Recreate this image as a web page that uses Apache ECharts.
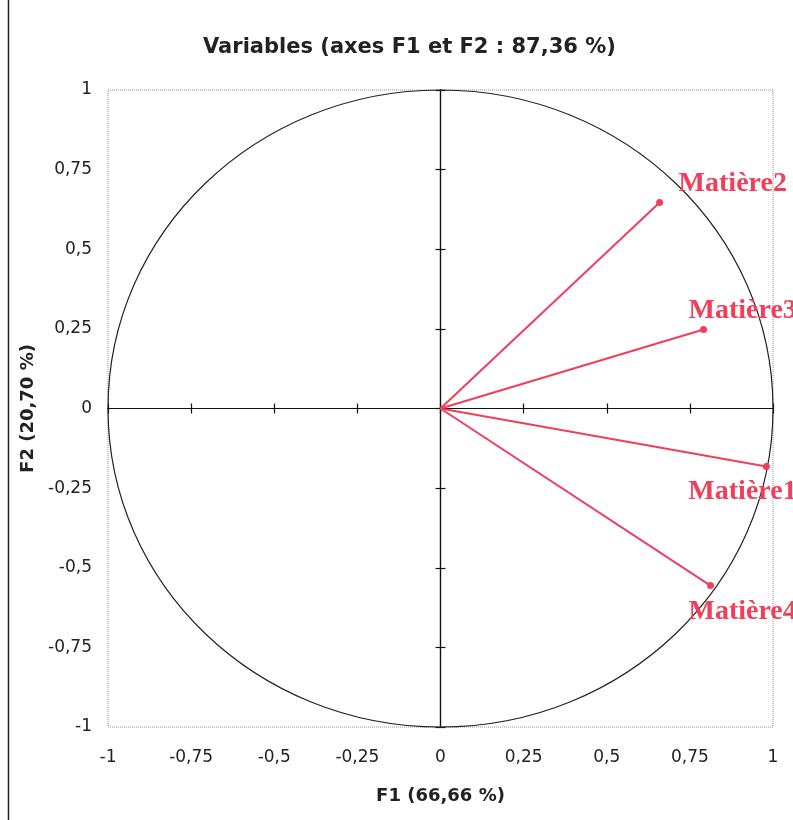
<!DOCTYPE html>
<html>
<head>
<meta charset="utf-8">
<script src="https://cdn.jsdelivr.net/npm/echarts@6/dist/echarts.min.js"></script>
<style>html,body{margin:0;padding:0;background:#fff}#c{width:793px;height:820px}</style>
</head>
<body>
<div id="c"></div>
<script>
// ---- data ----
const variableNames = ['Matière1', 'Matière2', 'Matière3', 'Matière4'];
const f1Values = [0.980, 0.659, 0.791, 0.812];
const f2Values = [-0.182, 0.647, 0.248, -0.556];
const axisTicks = [-1, -0.75, -0.5, -0.25, 0, 0.25, 0.5, 0.75, 1];
const titleText = 'Variables (axes F1 et F2 : 87,36 %)';
const xAxisTitle = 'F1 (66,66 %)';
const yAxisTitle = 'F2 (20,70 %)';

// ---- styles ----
const RED = '#ef3f5a';
const labelOffsets = {
  'Matière1': [-78, 25],
  'Matière2': [19, -19],
  'Matière3': [-15, -19],
  'Matière4': [-22, 26]
};
const fmt = v => String(v).replace('.', ',');
const font = 'DejaVu Sans, Arial, sans-serif';

const chart = echarts.init(document.getElementById('c'), null, {renderer: 'canvas'});

const series = variableNames.map((name, i) => ({
  type: 'line',
  name: name,
  xAxisIndex: 0,
  yAxisIndex: 0,
  animation: false,
  lineStyle: {color: RED, width: 2},
  itemStyle: {color: RED},
  symbol: 'circle',
  symbolSize: 7,
  showSymbol: true,
  z: 5,
  data: [
    {value: [0, 0], symbol: 'none'},
    {value: [f1Values[i], f2Values[i]],
     label: {
       show: true,
       position: 'inside',
       offset: labelOffsets[name],
       align: 'left',
       formatter: name,
       color: RED,
       fontFamily: 'Liberation Serif, Times New Roman, serif',
       fontWeight: 'bold',
       fontSize: 28
     }}
  ]
}));

function zeroAxis(kind, inside) {
  return {
    type: 'value', min: -1, max: 1, interval: 0.25,
    axisLine: {show: true, onZero: true, onZeroAxisIndex: 0, lineStyle: {color: '#111', width: 1.2}},
    axisTick: {show: true, inside: inside, length: 5, lineStyle: {color: '#111', width: 1.2}},
    axisLabel: {show: false},
    splitLine: {show: false},
    position: kind === 'x' ? 'bottom' : 'left'
  };
}

chart.setOption({
  animation: false,
  title: {
    text: titleText, left: 198, top: 32,
    textStyle: {fontFamily: font, fontWeight: 'bold', fontSize: 21, color: '#222'}
  },
  grid: {
    left: 108, right: 20, top: 90, bottom: 93,
    show: true, borderColor: '#8d8fa8', borderWidth: 1, borderType: 'dotted'
  },
  xAxis: [
    {
      type: 'value', min: -1, max: 1, interval: 0.25, position: 'bottom',
      axisLine: {show: false, onZero: false},
      axisTick: {show: false},
      splitLine: {show: false},
      axisLabel: {margin: 22, formatter: v => axisTicks.includes(v) ? fmt(v) : '',
        color: '#222', fontFamily: font, fontSize: 17},
      name: xAxisTitle, nameLocation: 'middle', nameGap: 60,
      nameTextStyle: {fontFamily: font, fontWeight: 'bold', fontSize: 18, color: '#222'}
    },
    zeroAxis('x', false),
    zeroAxis('x', true)
  ],
  yAxis: [
    {
      type: 'value', min: -1, max: 1, interval: 0.25, position: 'left',
      axisLine: {show: false, onZero: false},
      axisTick: {show: false},
      splitLine: {show: false},
      axisLabel: {margin: 16, formatter: v => axisTicks.includes(v) ? fmt(v) : '',
        color: '#222', fontFamily: font, fontSize: 17},
      name: yAxisTitle, nameLocation: 'middle', nameGap: 64,
      nameTextStyle: {fontFamily: font, fontWeight: 'bold', fontSize: 18, color: '#222'}
    },
    zeroAxis('y', false),
    zeroAxis('y', true)
  ],
  series: series
});

// unit circle of correlations, placed through the axes' own scale
const c0 = chart.convertToPixel({xAxisIndex: 0, yAxisIndex: 0}, [0, 0]);
const cx1 = chart.convertToPixel({xAxisIndex: 0, yAxisIndex: 0}, [1, 0]);
const cy1 = chart.convertToPixel({xAxisIndex: 0, yAxisIndex: 0}, [0, 1]);
chart.setOption({
  graphic: [
    {
      type: 'ellipse', silent: true, z: 3,
      shape: {cx: c0[0], cy: c0[1], rx: cx1[0] - c0[0], ry: c0[1] - cy1[1]},
      style: {fill: 'none', stroke: '#222', lineWidth: 1.2}
    },
    {
      type: 'line', silent: true,
      shape: {x1: 8.5, y1: 0, x2: 8.5, y2: 820},
      style: {stroke: '#222', lineWidth: 1.5}
    }
  ]
});
</script>
</body>
</html>
